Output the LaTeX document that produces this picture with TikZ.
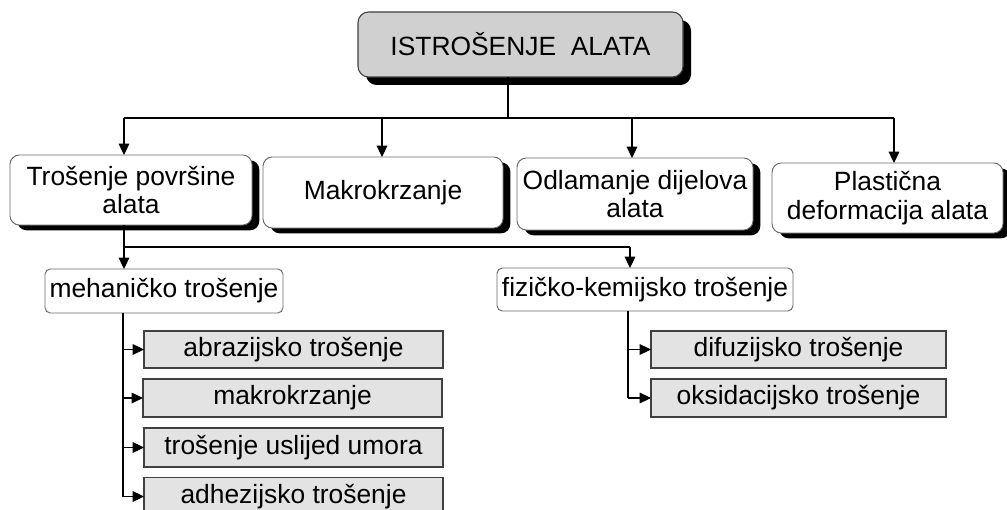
\documentclass[tikz,border=0pt]{standalone}
\usepackage{fontspec}
\setmainfont{Liberation Sans}
\usetikzlibrary{arrows.meta,shadows}
\definecolor{topgray}{HTML}{D0D0D0}
\definecolor{boxgray}{HTML}{E3E3E3}
\definecolor{edge}{HTML}{404040}
\definecolor{lightedge}{HTML}{6A6A6A}
\begin{document}
\begin{tikzpicture}[x=0.75pt,y=-0.75pt,
  every node/.style={inner sep=0pt, outer sep=0pt, align=center,
    font=\fontsize{19.8}{21.5}\selectfont},
  topbox/.style={draw=edge, line width=0.8pt, fill=topgray, rounded corners=8pt,
    drop shadow={shadow xshift=6pt, shadow yshift=-6pt, fill=black, opacity=1}},
  lvlbox/.style={draw=lightedge, line width=0.7pt, fill=white, rounded corners=7pt,
    drop shadow={shadow xshift=5.5pt, shadow yshift=-4pt, fill=black, opacity=1}},
  subbox/.style={draw=lightedge, line width=0.7pt, fill=white, rounded corners=4pt},
  leaf/.style={draw=edge, line width=0.8pt, fill=boxgray},
  conn/.style={line width=0.8pt, draw=black},
  arr/.style={conn, -{Triangle[length=8.5pt,width=8pt]}}
]
\useasboundingbox (0,0) rectangle (1007,510);
\begin{scope}
\clip (0,0) rectangle (1007,510);
% top
\node[topbox, minimum width=243.75pt, minimum height=48.75pt] (top) at (520.5,44.5) {ISTROŠENJE\ \ ALATA};
% level 2
\node[lvlbox, minimum width=181.5pt, minimum height=52.5pt] (b1) at (131,190) {Trošenje površine\\alata};
\node[lvlbox, minimum width=180pt, minimum height=53.25pt] (b2) at (383,192.5) {Makrokrzanje};
\node[lvlbox, minimum width=177pt, minimum height=54pt] (b3) at (635,194) {Odlamanje dijelova\\alata};
\node[lvlbox, minimum width=173.25pt, minimum height=52.5pt] (b4) at (887.5,198) {Plastična\\deformacija alata};
% level 3
\node[subbox, minimum width=178.5pt, minimum height=33pt] (meh) at (164,291) {mehaničko trošenje};
\node[subbox, minimum width=222pt, minimum height=32.25pt] (fiz) at (645,289.5) {fizičko-kemijsko trošenje};
% leaves
\node[leaf, minimum width=224.25pt, minimum height=27.75pt] (g1) at (293.5,349.5) {abrazijsko trošenje};
\node[leaf, minimum width=224.25pt, minimum height=28.5pt] (g2) at (292.5,398) {makrokrzanje};
\node[leaf, minimum width=224.25pt, minimum height=29.25pt] (g3) at (293.5,447.5) {trošenje uslijed umora};
\node[leaf, minimum width=224.25pt, minimum height=28.5pt] (g4) at (293.5,496.5) {adhezijsko trošenje};
\node[leaf, minimum width=221.25pt, minimum height=27.75pt] (g5) at (798.5,349.5) {difuzijsko trošenje};
\node[leaf, minimum width=221.25pt, minimum height=28.5pt] (g6) at (798.5,398) {oksidacijsko trošenje};
% connectors top
\coordinate (j0) at (508,118);
\coordinate (h1) at (124,118);
\coordinate (h2) at (382,118);
\coordinate (h3) at (632,118);
\coordinate (h4) at (894,118);
\draw[conn] (top.south -| j0) -- (j0);
\draw[conn] (h1) -- (h4);
\draw[arr] (h1) -- (h1 |- b1.north);
\draw[arr] (h2) -- (h2 |- b2.north);
\draw[arr] (h3) -- (h3 |- b3.north);
\draw[arr] (h4) -- (h4 |- b4.north);
% from b1 to sub categories
\coordinate (k1) at (124,247);
\coordinate (k2) at (630,247);
\draw[conn] (b1.south -| k1) -- (k1) -- (k2);
\draw[arr] (k1) -- (k1 |- meh.north);
\draw[arr] (k2) -- (k2 |- fiz.north);
% mechanical branch
\coordinate (m0) at (123,313);
\draw[conn] (m0) -- (m0 |- g4.west);
\draw[arr] (m0 |- g1.west) -- (g1.west);
\draw[arr] (m0 |- g2.west) -- (g2.west);
\draw[arr] (m0 |- g3.west) -- (g3.west);
\draw[arr] (m0 |- g4.west) -- (g4.west);
% physical-chemical branch
\coordinate (f0) at (628,311);
\draw[conn] (f0) -- (f0 |- g6.west);
\draw[arr] (f0 |- g5.west) -- (g5.west);
\draw[arr] (f0 |- g6.west) -- (g6.west);
\end{scope}
\end{tikzpicture}
\end{document}
